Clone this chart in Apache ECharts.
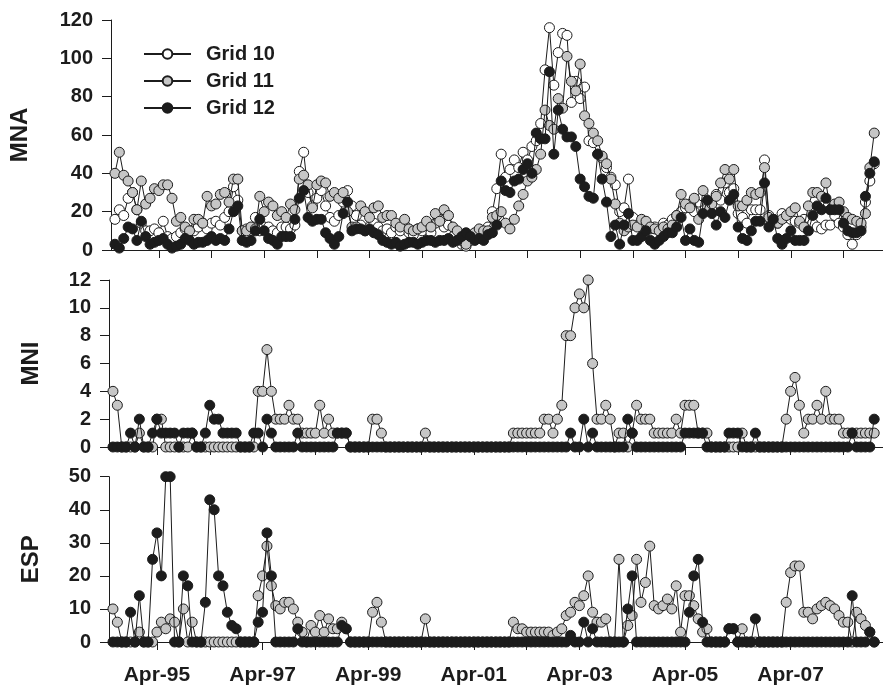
<!DOCTYPE html>
<html>
<head>
<meta charset="utf-8">
<script src="https://cdn.jsdelivr.net/npm/echarts@6/dist/echarts.min.js"></script>
<style>
  html, body { margin: 0; padding: 0; background: #fff; }
  #chart { width: 883px; height: 686px; }
</style>
</head>
<body>
<div id="chart"></div>
<script>
// months counted from Jan-94 = 0; first sample is Jun-94, one sample a month
var firstMonth = 5;

var tickMonths = [15, 27, 39, 51, 63, 75, 87, 99, 111, 123, 135, 147, 159, 171];
var labelMonths = [15, 39, 63, 87, 111, 135, 159];
var tickLabels = ['Apr-95', 'Apr-97', 'Apr-99', 'Apr-01', 'Apr-03', 'Apr-05', 'Apr-07'];

var panelNames = ['MNA', 'MNI', 'ESP'];
var seriesNames = ['Grid 10', 'Grid 11', 'Grid 12'];

var mnaGrid10 = [
  16, 21, 18, 27, 30, 21, 14, 10, 10, 11,
  9, 15, 7, 6, 7, 9, 11, 10, 10, 12,
  14, 11, 14, 15, 13, 17, 20, 33, 26, 10,
  11, 11, 17, 10, 12, 12, 10, 9, 12, 12,
  11, 13, 41, 51, 30, 23, 27, 31, 23, 17,
  15, 18, 25, 31, 23, 18, 13, 10, 12, 14,
  12, 10, 11, 9, 12, 10, 13, 9, 8, 11,
  10, 13, 9, 14, 16, 12, 13, 7, 5, 3,
  2, 5, 8, 8, 10, 12, 20, 32, 50, 38,
  42, 47, 43, 51, 47, 54, 57, 66, 94, 116,
  86, 103, 113, 112, 77, 88, 79, 85, 57, 56,
  50, 48, 43, 38, 34, 20, 22, 37, 17, 13,
  12, 14, 11, 12, 10, 14, 13, 16, 18, 20,
  22, 24, 20, 25, 28, 24, 21, 29, 26, 35,
  30, 32, 19, 17, 14, 21, 21, 21, 47, 18,
  16, 14, 19, 17, 16, 15, 14, 16, 12, 14,
  12, 11, 13, 13, 18, 14, 12, 8, 3, 8,
  12, 25, 36, 45
];
var mnaGrid11 = [
  40, 51, 39, 36, 30, 21, 36, 24, 27, 32,
  31, 34, 34, 27, 15, 17, 12, 10, 16, 16,
  14, 28, 23, 24, 29, 30, 25, 37, 37, 10,
  10, 12, 11, 28, 20, 25, 23, 18, 20, 17,
  24, 21, 37, 39, 34, 22, 34, 36, 35, 28,
  30, 27, 30, 20, 12, 12, 23, 20, 17, 22,
  23, 17, 18, 18, 14, 12, 16, 11, 10, 11,
  12, 15, 12, 19, 15, 21, 18, 12, 10, 5,
  3, 7, 9, 11, 10, 10, 17, 18, 20, 14,
  11, 16, 23, 29, 36, 38, 42, 50, 73, 65,
  63, 79, 74, 101, 88, 83, 97, 70, 66, 61,
  57, 49, 45, 37, 24, 14, 10, 12, 13, 12,
  16, 15, 12, 11, 10, 12, 11, 13, 18, 29,
  24, 22, 27, 16, 31, 22, 24, 28, 35, 42,
  37, 42, 23, 23, 26, 30, 29, 30, 43, 17,
  16, 14, 16, 18, 20, 22, 15, 12, 23, 30,
  30, 28, 35, 21, 24, 25, 20, 17, 16, 15,
  14, 19, 43, 61
];
var mnaGrid12 = [
  3, 1, 6, 12, 11, 5, 15, 7, 3, 4,
  5, 6, 3, 1, 2, 3, 6, 5, 3, 4,
  4, 5, 7, 5, 6, 5, 11, 20, 23, 5,
  4, 5, 10, 16, 10, 6, 5, 3, 7, 7,
  7, 16, 27, 31, 17, 15, 16, 16, 9, 6,
  3, 7, 19, 25, 10, 11, 11, 10, 11, 9,
  8, 5, 4, 3, 4, 2, 3, 4, 4, 3,
  4, 5, 5, 4, 5, 5, 6, 4, 5, 7,
  9, 7, 5, 6, 5, 8, 9, 13, 36, 31,
  30, 36, 37, 42, 45, 40, 61, 58, 58, 93,
  50, 73, 63, 59, 59, 54, 37, 33, 28, 27,
  50, 37, 25, 7, 13, 3, 13, 19, 5, 5,
  7, 10, 5, 3, 5, 7, 9, 9, 12, 17,
  5, 11, 5, 4, 19, 26, 19, 13, 20, 17,
  26, 29, 12, 6, 5, 10, 15, 15, 35, 12,
  16, 6, 3, 6, 10, 5, 5, 5, 10, 18,
  23, 21, 27, 21, 21, 21, 14, 10, 9, 9,
  10, 28, 40, 46
];

var mniGrid11 = [
  4, 3, 0, 0, 0, 0, 1, 0, 0, 0,
  2, 2, 0, 0, 0, 0, 0, 0, 1, 0,
  0, 0, 0, 0, 0, 0, 0, 0, 0, 0,
  0, 0, 0, 4, 4, 7, 4, 2, 2, 2,
  3, 2, 2, 1, 1, 1, 1, 3, 1, 2,
  1, 1, 1, 1, 0, 0, 0, 0, 0, 2,
  2, 1, 0, 0, 0, 0, 0, 0, 0, 0,
  0, 1, 0, 0, 0, 0, 0, 0, 0, 0,
  0, 0, 0, 0, 0, 0, 0, 0, 0, 0,
  0, 1, 1, 1, 1, 1, 1, 1, 2, 2,
  1, 2, 3, 8, 8, 10, 11, 10, 12, 6,
  2, 2, 3, 2, 0, 1, 1, 0, 1, 3,
  2, 2, 2, 1, 1, 1, 1, 1, 2, 1,
  3, 3, 3, 1, 1, 1, 0, 0, 0, 0,
  0, 0, 0, 1, 0, 0, 0, 0, 0, 0,
  0, 0, 0, 2, 4, 5, 3, 1, 2, 2,
  3, 2, 4, 2, 2, 2, 1, 1, 1, 1,
  1, 1, 1, 1
];
var mniGrid12 = [
  0, 0, 0, 0, 1, 0, 2, 0, 0, 1,
  2, 1, 1, 1, 1, 0, 1, 1, 1, 0,
  0, 1, 3, 2, 2, 1, 1, 1, 1, 0,
  0, 0, 1, 1, 0, 2, 1, 0, 0, 0,
  0, 0, 1, 0, 0, 0, 0, 0, 0, 0,
  0, 1, 1, 1, 0, 0, 0, 0, 0, 0,
  0, 0, 0, 0, 0, 0, 0, 0, 0, 0,
  0, 0, 0, 0, 0, 0, 0, 0, 0, 0,
  0, 0, 0, 0, 0, 0, 0, 0, 0, 0,
  0, 0, 0, 0, 0, 0, 0, 0, 0, 0,
  0, 0, 0, 0, 1, 0, 0, 2, 0, 1,
  0, 0, 0, 0, 0, 0, 0, 2, 1, 0,
  0, 0, 0, 0, 0, 0, 0, 0, 0, 0,
  1, 1, 1, 1, 1, 0, 0, 0, 0, 0,
  1, 1, 1, 0, 0, 0, 1, 0, 0, 0,
  0, 0, 0, 0, 0, 0, 0, 0, 0, 0,
  0, 0, 0, 0, 0, 0, 0, 0, 1, 0,
  0, 0, 0, 2
];

var espGrid11 = [
  10, 6, 0, 0, 0, 0, 3, 0, 0, 0,
  3, 6, 4, 7, 6, 0, 10, 0, 6, 0,
  0, 0, 0, 0, 0, 0, 0, 0, 0, 0,
  0, 0, 0, 14, 20, 29, 17, 11, 10, 12,
  12, 10, 6, 3, 0, 5, 3, 8, 3, 7,
  4, 4, 6, 4, 0, 0, 0, 0, 0, 9,
  12, 6, 0, 0, 0, 0, 0, 0, 0, 0,
  0, 7, 0, 0, 0, 0, 0, 0, 0, 0,
  0, 0, 0, 0, 0, 0, 0, 0, 0, 0,
  0, 6, 4, 4, 3, 3, 3, 3, 3, 3,
  2, 3, 4, 8, 9, 12, 11, 14, 20, 9,
  6, 6, 7, 0, 0, 25, 0, 5, 8, 25,
  12, 18, 29, 11, 10, 11, 13, 10, 17, 3,
  14, 14, 11, 7, 3, 4, 0, 0, 0, 0,
  4, 4, 0, 4, 0, 0, 0, 0, 0, 0,
  0, 0, 0, 12, 21, 23, 23, 9, 9, 7,
  10, 11, 12, 11, 10, 8, 6, 6, 0, 9,
  7, 5, 3, 0
];
var espGrid12 = [
  0, 0, 0, 0, 9, 0, 14, 0, 0, 25,
  33, 20, 50, 50, 0, 0, 20, 17, 0, 0,
  0, 12, 43, 40, 20, 17, 9, 5, 4, 0,
  0, 0, 0, 6, 9, 33, 20, 0, 0, 0,
  0, 0, 4, 0, 0, 0, 0, 0, 0, 0,
  0, 0, 5, 4, 0, 0, 0, 0, 0, 0,
  0, 0, 0, 0, 0, 0, 0, 0, 0, 0,
  0, 0, 0, 0, 0, 0, 0, 0, 0, 0,
  0, 0, 0, 0, 0, 0, 0, 0, 0, 0,
  0, 0, 0, 0, 0, 0, 0, 0, 0, 0,
  0, 0, 0, 0, 2, 0, 0, 6, 0, 4,
  0, 0, 0, 0, 0, 0, 0, 10, 20, 0,
  0, 0, 0, 0, 0, 0, 0, 0, 0, 0,
  0, 9, 20, 25, 6, 0, 0, 0, 0, 0,
  4, 4, 0, 0, 0, 0, 7, 0, 0, 0,
  0, 0, 0, 0, 0, 0, 0, 0, 0, 0,
  0, 0, 0, 0, 0, 0, 0, 0, 14, 0,
  0, 0, 3, 0
];

var yMax = [120, 12, 50];
var yStep = [20, 2, 10];

var ink = '#1c1c1c';
var fontFamily = '"Liberation Sans", Arial, sans-serif';
var fills = { 'Grid 10': '#ffffff', 'Grid 11': '#c6c6c6', 'Grid 12': '#1c1c1c' };

var chart = echarts.init(document.getElementById('chart'), null, { renderer: 'canvas' });

var grids = [
  { left: 109, top: 20, width: 784, height: 230 },
  { left: 109, top: 280, width: 784, height: 167 },
  { left: 109, top: 476.7, width: 784, height: 166.6 }
];
var nameGaps = [79, 66, 66];

function makeSeries(name, values, gridIdx, z) {
  return {
    name: name,
    type: 'line',
    xAxisIndex: gridIdx,
    yAxisIndex: gridIdx,
    data: values.map(function (v, i) { return [firstMonth + i, v]; }),
    symbol: 'circle',
    symbolSize: 10,
    showAllSymbol: true,
    clip: false,
    z: z,
    lineStyle: { color: ink, width: 1 },
    itemStyle: { color: fills[name], borderColor: ink, borderWidth: 1 },
    emphasis: { disabled: true }
  };
}

var xAxes = grids.map(function (g, idx) {
  return {
    type: 'value',
    gridIndex: idx,
    min: 4.1,
    max: 180,
    splitLine: { show: false },
    axisLine: { show: true, onZero: false, lineStyle: { color: ink, width: 1 } },
    axisTick: { show: true, customValues: tickMonths, length: 8, lineStyle: { color: ink, width: 1 } },
    axisLabel: {
      show: idx === 2,
      customValues: labelMonths,
      margin: 23,
      fontFamily: fontFamily,
      fontWeight: 'bold',
      fontSize: 21,
      color: ink,
      formatter: function (val) {
        var k = labelMonths.indexOf(Math.round(val));
        return k >= 0 ? tickLabels[k] : '';
      }
    }
  };
});

var yAxes = grids.map(function (g, idx) {
  return {
    type: 'value',
    gridIndex: idx,
    min: 0,
    max: yMax[idx],
    interval: yStep[idx],
    name: panelNames[idx],
    nameLocation: 'middle',
    nameRotate: 90,
    nameGap: nameGaps[idx],
    nameTextStyle: { fontFamily: fontFamily, fontWeight: 'bold', fontSize: 24, color: ink },
    splitLine: { show: false },
    axisLine: { show: true, lineStyle: { color: ink, width: 1 } },
    axisTick: { show: true, length: 9, lineStyle: { color: ink, width: 1 } },
    axisLabel: { margin: 18, fontFamily: fontFamily, fontWeight: 'bold', fontSize: 20, color: ink }
  };
});

var series = [
  makeSeries('Grid 10', mnaGrid10, 0, 2),
  makeSeries('Grid 11', mnaGrid11, 0, 3),
  makeSeries('Grid 12', mnaGrid12, 0, 4),
  makeSeries('Grid 11', mniGrid11, 1, 3),
  makeSeries('Grid 12', mniGrid12, 1, 4),
  makeSeries('Grid 11', espGrid11, 2, 3),
  makeSeries('Grid 12', espGrid12, 2, 4)
];

chart.setOption({
  animation: false,
  backgroundColor: '#ffffff',
  grid: grids,
  xAxis: xAxes,
  yAxis: yAxes,
  legend: {
    data: seriesNames,
    orient: 'vertical',
    left: 143,
    top: 44,
    padding: 0,
    itemWidth: 47,
    itemHeight: 12,
    itemGap: 7,
    selectedMode: false,
    textStyle: { fontFamily: fontFamily, fontWeight: 'bold', fontSize: 20, color: ink, padding: [0, 0, 0, 10] }
  },
  series: series
});
</script>
</body>
</html>
